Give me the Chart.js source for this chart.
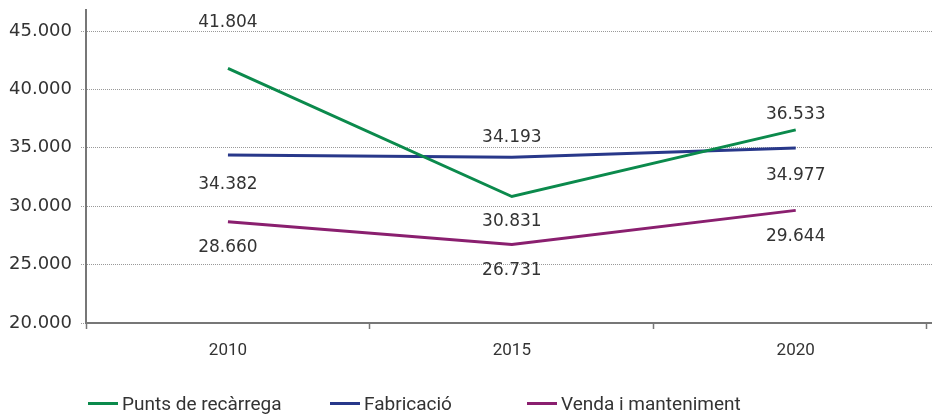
<!DOCTYPE html>
<html>
<head>
<meta charset="utf-8">
<script src="https://cdn.jsdelivr.net/npm/chart.js@4"></script>
<style>
  html, body { margin: 0; padding: 0; background: #fff; overflow: hidden; }
  #wrap { position: relative; width: 932px; height: 415px; }
  #legend { position: absolute; left: 0; top: 392px; width: 932px; height: 22px;
            font-family: "Liberation Sans Narrow", "Roboto", sans-serif; font-size: 19px; color: #333; }
  .item { position: absolute; top: 0; display: flex; align-items: center; white-space: nowrap; }
  .swatch { width: 30px; height: 3px; margin-right: 4px; }
</style>
</head>
<body>
<div id="wrap">
  <canvas id="chart" width="932" height="415"></canvas>
  <div id="legend"></div>
</div>
<script>
"use strict";

// chart data
const years = [2010, 2015, 2020];
const seriesNames = ['Punts de recàrrega', 'Fabricació', 'Venda i manteniment'];
const puntsRecarrega = [41804, 30831, 36533];
const fabricacio = [34382, 34193, 34977];
const vendaManteniment = [28660, 26731, 29644];
const yTicks = [20000, 25000, 30000, 35000, 40000, 45000];

const colors = ['#0b8a4c', '#28388a', '#8a1f6f'];
// label offset from the point, in px (negative = above)
const labelOffsets = [
  [-46, 25, -15],
  [30, -20, 27],
  [26, 26, 26]
];
const legendLeft = [88, 330, 527];

const fmt = function (v) {
  return String(Math.round(v)).replace(/\B(?=(\d{3})+(?!\d))/g, '.');
};

const allValues = [puntsRecarrega, fabricacio, vendaManteniment];

const datasets = allValues.map(function (vals, i) {
  return {
    label: seriesNames[i],
    data: vals.map(function (v, j) { return {x: years[j], y: v}; }),
    borderColor: colors[i],
    backgroundColor: colors[i],
    borderWidth: 3,
    pointRadius: 0,
    tension: 0,
    fill: false
  };
});

const valueLabels = {
  id: 'valueLabels',
  afterDatasetsDraw: function (chart) {
    const c = chart.ctx;
    c.save();
    c.font = '17px "DejaVu Sans", sans-serif';
    c.fillStyle = '#333';
    c.textAlign = 'center';
    c.textBaseline = 'middle';
    chart.data.datasets.forEach(function (ds, i) {
      chart.getDatasetMeta(i).data.forEach(function (pt, j) {
        c.fillText(fmt(ds.data[j].y), pt.x, pt.y + labelOffsets[i][j]);
      });
    });
    c.restore();
  }
};

const xTickValues = [2007.5, 2010, 2012.5, 2015, 2017.5, 2020, 2022.3];

const config = {
  type: 'line',
  data: {datasets: datasets},
  options: {
    responsive: false,
    animation: false,
    layout: {padding: {top: 10, right: 0, left: 0, bottom: 0}},
    plugins: {
      legend: {display: false},
      tooltip: {enabled: false}
    },
    scales: {
      x: {
        type: 'linear',
        min: 2007.5,
        max: 2022.4,
        afterBuildTicks: function (scale) {
          scale.ticks = xTickValues.map(function (v) { return {value: v}; });
        },
        afterFit: function (scale) {
          scale.height = 92;
          scale.paddingLeft = 0;
          scale.paddingRight = 0;
        },
        border: {display: true, color: '#777', width: 2},
        grid: {
          drawOnChartArea: false,
          drawTicks: true,
          tickLength: 6,
          tickColor: function (ctx) {
            return (ctx.tick && years.indexOf(ctx.tick.value) >= 0) ? 'rgba(0,0,0,0)' : '#777';
          },
          tickWidth: 1.5
        },
        ticks: {
          autoSkip: false,
          maxRotation: 0,
          padding: 12,
          color: '#333',
          font: {family: '"Liberation Sans Narrow", "Roboto", sans-serif', size: 17},
          callback: function (value) {
            return years.indexOf(value) >= 0 ? String(value) : '';
          }
        }
      },
      y: {
        min: 20000,
        max: 46800,
        afterBuildTicks: function (scale) {
          scale.ticks = yTicks.map(function (v) { return {value: v}; });
        },
        afterFit: function (scale) {
          scale.width = 86;
          scale.paddingTop = 0;
          scale.paddingBottom = 0;
        },
        border: {display: true, color: '#777', width: 2, dash: [1, 1]},
        grid: {
          color: '#999',
          lineWidth: 1,
          tickLength: 5,
          tickColor: '#999',
          tickBorderDash: [1, 1]
        },
        ticks: {
          padding: 9,
          color: '#333',
          font: {family: '"DejaVu Sans", sans-serif', size: 18},
          callback: function (value) { return fmt(value); }
        }
      }
    }
  },
  plugins: [valueLabels]
};

const ctx = document.getElementById('chart').getContext('2d');
const chart = new Chart(ctx, config);

// legend
const legend = document.getElementById('legend');
seriesNames.forEach(function (name, i) {
  const item = document.createElement('div');
  item.className = 'item';
  item.style.left = legendLeft[i] + 'px';
  const sw = document.createElement('span');
  sw.className = 'swatch';
  sw.style.background = colors[i];
  const tx = document.createElement('span');
  tx.textContent = name;
  item.appendChild(sw);
  item.appendChild(tx);
  legend.appendChild(item);
});
</script>
</body>
</html>
